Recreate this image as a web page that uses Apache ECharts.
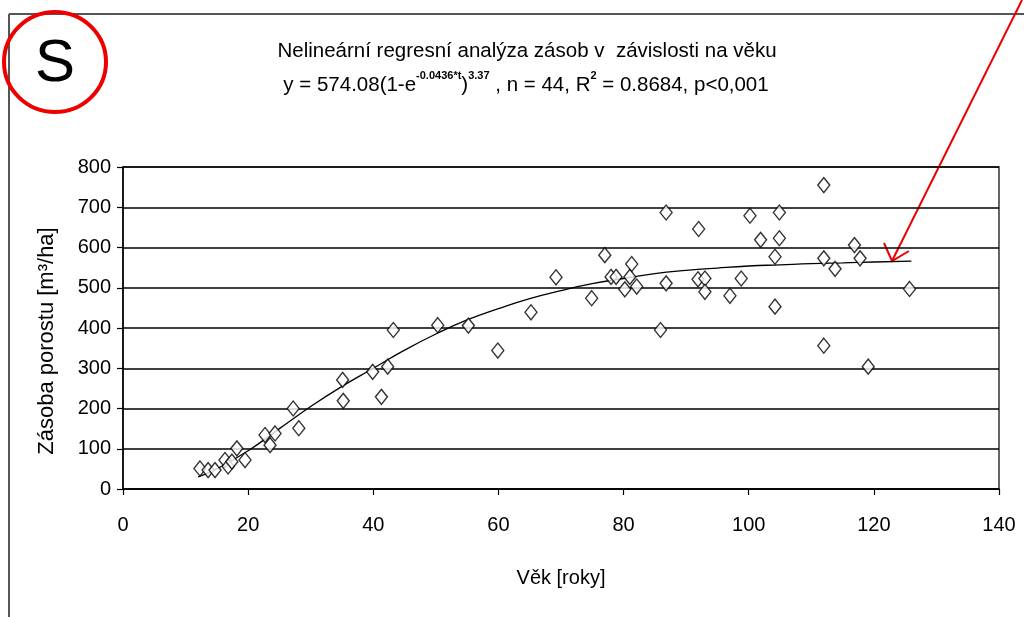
<!DOCTYPE html>
<html>
<head>
<meta charset="utf-8">
<script src="https://cdn.jsdelivr.net/npm/echarts@6/dist/echarts.min.js"></script>
<style>
html,body{margin:0;padding:0;background:#fff;}
#chart{width:1024px;height:617px;}
</style>
</head>
<body>
<div id="chart"></div>
<script>
// Observed points: age [years] and stand volume [m3/ha]
const ages = [12.3, 13.6, 14.7, 16.3, 16.8, 17.4, 18.2, 19.5, 22.7, 23.5, 24.3, 27.2, 28.1,
  35.1, 35.2, 39.9, 41.3, 42.3, 43.2, 50.3, 55.2, 59.9, 65.2, 69.2, 74.9, 77.0, 78.0, 78.8,
  81.3, 81.0, 80.2, 82.1, 86.8, 85.9, 86.8, 92.0, 91.9, 93.0, 93.0, 97.0, 98.8, 100.2, 104.9,
  101.9, 104.9, 104.2, 104.2, 112.0, 112.0, 112.0, 113.8, 116.9, 117.8, 119.1, 125.7];
const volumes = [51, 47, 47, 72, 56, 68, 101, 72, 134, 109, 138, 200, 151,
  271, 219, 291, 229, 304, 395, 407, 406, 344, 439, 526, 474, 581, 527, 527,
  559, 527, 496, 503, 687, 395, 511, 646, 521, 523, 490, 480, 523, 679, 687,
  619, 623, 577, 453, 755, 573, 356, 547, 606, 573, 304, 497];
// Fitted curve
const curveAges = [12, 15, 20, 25, 30, 35, 40, 45, 50, 55, 60, 65, 70, 75, 80, 85, 90, 95, 100, 105, 110, 115, 120, 126];
const curveVals = [30, 50, 95, 150, 205, 255, 300, 345, 385, 420, 448, 473, 493, 510, 523, 535, 543, 549, 554, 557, 560, 562, 564, 566];
const xTicks = [0, 20, 40, 60, 80, 100, 120, 140];
const yTicks = [0, 100, 200, 300, 400, 500, 600, 700, 800];

const FONT = '"Liberation Sans", Arial, sans-serif';
const chart = echarts.init(document.getElementById('chart'), null, {renderer: 'canvas'});
const pts = ages.map((a, i) => [a, volumes[i]]);
const curve = curveAges.map((a, i) => [a, curveVals[i]]);

chart.setOption({
  animation: false,
  backgroundColor: '#fff',
  title: [{
    text: 'Nelineární regresní analýza zásob v  závislosti na věku',
    left: 522, top: 36, textAlign: 'center',
    textStyle: {fontFamily: FONT, fontSize: 20.5, fontWeight: 'normal', color: '#000'}
  }, {
    text: '{n|y = 574.08(1-e}{s|-0.0436*t}{n|)}{s|3.37}{n| , n = 44, R}{s|2}{n| = 0.8684, p<0,001}',
    left: 521, top: 65, textAlign: 'center',
    textStyle: {
      fontWeight: 'normal',
      rich: {
        n: {fontFamily: FONT, fontSize: 20.5, fontWeight: 'normal', color: '#000', verticalAlign: 'bottom', lineHeight: 26},
        s: {fontFamily: FONT, fontSize: 11, color: '#000', fontWeight: 'bold', verticalAlign: 'top', lineHeight: 26, padding: [0, 0, 12, 0]}
      }
    }
  }],
  grid: {left: 123, right: 25, top: 167, bottom: 128, show: true, borderColor: '#333', borderWidth: 1.5, backgroundColor: 'transparent'},
  xAxis: {
    type: 'value', min: 0, max: 140, interval: 20,
    name: 'Věk [roky]', nameLocation: 'middle', nameGap: 79,
    nameTextStyle: {fontFamily: FONT, fontSize: 20, color: '#000'},
    axisLine: {show: true, lineStyle: {color: '#000', width: 1.5}},
    axisTick: {show: true, length: 6, lineStyle: {color: '#000', width: 1.2}},
    axisLabel: {fontFamily: FONT, fontSize: 20, color: '#000', margin: 26,
      formatter: v => xTicks.includes(v) ? String(v) : ''},
    splitLine: {show: false}
  },
  yAxis: {
    type: 'value', min: 0, max: 800, interval: 100,
    axisLine: {show: true, lineStyle: {color: '#000', width: 1.5}},
    axisTick: {show: true, length: 6, inside: false, lineStyle: {color: '#000', width: 1.2}},
    axisLabel: {fontFamily: FONT, fontSize: 20, color: '#000', margin: 12,
      formatter: v => yTicks.includes(v) ? String(v) : ''},
    splitLine: {show: true, lineStyle: {color: '#000', width: 1.5}}
  },
  series: [{
    type: 'line', data: curve, smooth: true, showSymbol: false, symbol: 'none',
    lineStyle: {color: '#000', width: 1.3}, z: 3
  }, {
    type: 'scatter', data: pts, symbol: 'diamond', symbolSize: [12, 15],
    itemStyle: {color: '#fff', borderColor: '#000', borderWidth: 1.4}, z: 4
  }],
  graphic: [
    {type: 'line', shape: {x1: 9, y1: 14, x2: 1024, y2: 14}, style: {stroke: '#555', lineWidth: 2}},
    {type: 'line', shape: {x1: 9, y1: 14, x2: 9, y2: 617}, style: {stroke: '#555', lineWidth: 2}},
    {type: 'text', x: 47, y: 341, rotation: Math.PI / 2,
      style: {text: 'Zásoba porostu [m³/ha]', font: '22px "Liberation Sans", Arial, sans-serif', fill: '#000', align: 'center', verticalAlign: 'middle'}},
    {type: 'ellipse', shape: {cx: 55, cy: 62, rx: 51, ry: 50}, style: {stroke: '#e00', lineWidth: 4, fill: null}},
    {type: 'text', x: 55, y: 64, style: {text: 'S', font: '60px "Liberation Sans", Arial, sans-serif', fill: '#000', align: 'center', verticalAlign: 'middle'}},
    {type: 'line', shape: {x1: 1022, y1: 0, x2: 892, y2: 261}, style: {stroke: '#e00', lineWidth: 2}},
    {type: 'polyline', shape: {points: [[884, 243], [892, 261], [909, 251]]}, style: {stroke: '#e00', lineWidth: 2, fill: null}}
  ]
});
</script>
</body>
</html>
